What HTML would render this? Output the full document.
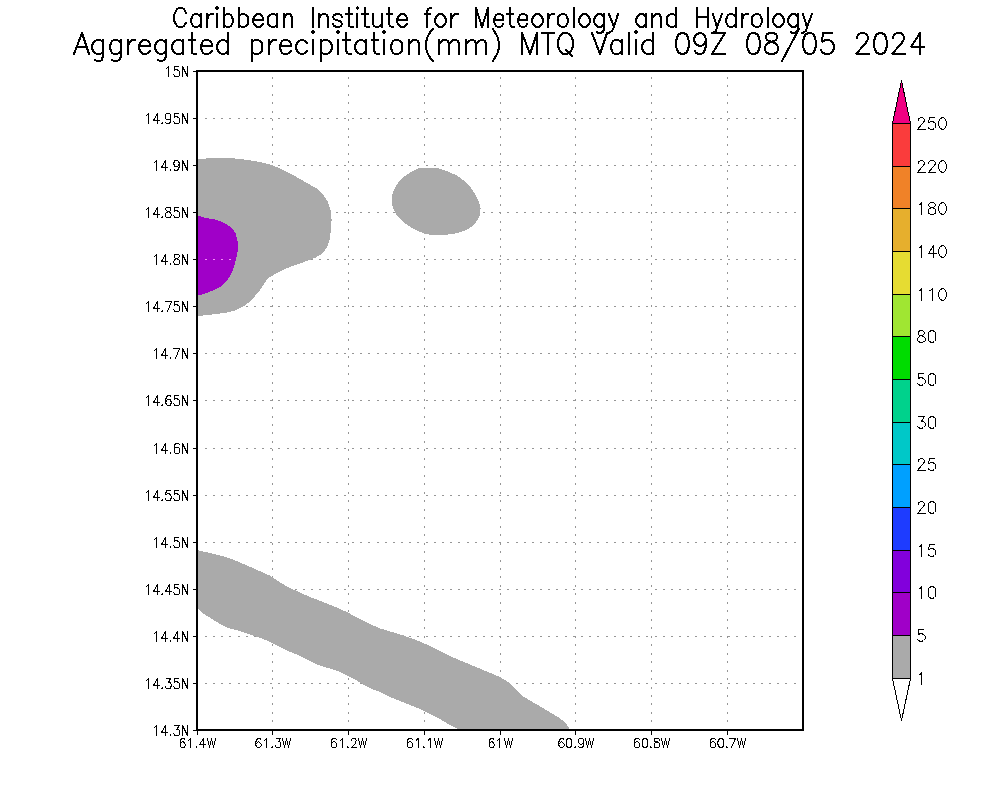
<!DOCTYPE html>
<html><head><meta charset="utf-8"><title>Aggregated precipitation(mm) MTQ</title>
<style>html,body{margin:0;padding:0;background:#fff;font-family:"Liberation Sans",sans-serif;}svg{display:block}</style></head><body>
<svg width="1000" height="800" viewBox="0 0 1000 800">
<rect x="0" y="0" width="1000" height="800" fill="#ffffff"/>
<g shape-rendering="crispEdges" stroke="#969696" stroke-width="1" fill="none">
<line x1="201" y1="118.5" x2="800" y2="118.5" stroke-dasharray="2 6.178" stroke-dashoffset="4.37"/>
<line x1="201" y1="165.5" x2="800" y2="165.5" stroke-dasharray="2 6.178" stroke-dashoffset="4.37"/>
<line x1="201" y1="212.5" x2="800" y2="212.5" stroke-dasharray="2 6.178" stroke-dashoffset="4.37"/>
<line x1="201" y1="259.5" x2="800" y2="259.5" stroke-dasharray="2 6.178" stroke-dashoffset="4.37"/>
<line x1="201" y1="306.5" x2="800" y2="306.5" stroke-dasharray="2 6.178" stroke-dashoffset="4.37"/>
<line x1="201" y1="353.5" x2="800" y2="353.5" stroke-dasharray="2 6.178" stroke-dashoffset="4.37"/>
<line x1="201" y1="400.5" x2="800" y2="400.5" stroke-dasharray="2 6.178" stroke-dashoffset="4.37"/>
<line x1="201" y1="448.5" x2="800" y2="448.5" stroke-dasharray="2 6.178" stroke-dashoffset="4.37"/>
<line x1="201" y1="495.5" x2="800" y2="495.5" stroke-dasharray="2 6.178" stroke-dashoffset="4.37"/>
<line x1="201" y1="542.5" x2="800" y2="542.5" stroke-dasharray="2 6.178" stroke-dashoffset="4.37"/>
<line x1="201" y1="589.5" x2="800" y2="589.5" stroke-dasharray="2 6.178" stroke-dashoffset="4.37"/>
<line x1="201" y1="636.5" x2="800" y2="636.5" stroke-dasharray="2 6.178" stroke-dashoffset="4.37"/>
<line x1="201" y1="683.5" x2="800" y2="683.5" stroke-dasharray="2 6.178" stroke-dashoffset="4.37"/>
<line x1="272.5" y1="726" x2="272.5" y2="74" stroke-dasharray="2 6.47" stroke-dashoffset="4.9"/>
<line x1="348.5" y1="726" x2="348.5" y2="74" stroke-dasharray="2 6.47" stroke-dashoffset="4.9"/>
<line x1="424.5" y1="726" x2="424.5" y2="74" stroke-dasharray="2 6.47" stroke-dashoffset="4.9"/>
<line x1="500.5" y1="726" x2="500.5" y2="74" stroke-dasharray="2 6.47" stroke-dashoffset="4.9"/>
<line x1="575.5" y1="726" x2="575.5" y2="74" stroke-dasharray="2 6.47" stroke-dashoffset="4.9"/>
<line x1="651.5" y1="726" x2="651.5" y2="74" stroke-dasharray="2 6.47" stroke-dashoffset="4.9"/>
<line x1="727.5" y1="726" x2="727.5" y2="74" stroke-dasharray="2 6.47" stroke-dashoffset="4.9"/>
</g>
<defs><clipPath id="pc"><polygon points="197,215.6 198,215.6 206,218 215.6,219.6 225.2,223.3 231.6,227.6 235.6,233.2 237.5,241.2 238,249.2 236.4,257.2 234,266.8 230.8,274.8 226.8,281.2 220.4,286.8 212.4,290.8 204.4,293.7 198,295.6 197,295.6"/></clipPath></defs>
<g shape-rendering="crispEdges" stroke="none">
<polygon fill="#aaaaaa" points="197,159.3 198,159.3 210.8,158 230,158 242.8,159.3 257.2,161.5 270,164.4 281.2,168.9 294,175.6 305.2,182 316.4,188.4 322.8,194 327.6,201.2 330.8,210.8 331.6,220.4 330.8,230 330,238 327.6,246 322.8,253.2 316.4,257.2 308.4,260.4 300.4,263.3 292.4,266 284.4,269.2 276.4,273.2 268.4,278 263.6,284.4 258.8,291.6 254,297.2 249.2,302 242.8,306.8 234.8,310.5 225.2,312.9 214,314.3 206,315.1 198,316.4 197,316.4"/>
<polygon fill="#aaaaaa" points="392,200.6 392.6,193.4 395,187.4 399.2,181.4 404,176.6 411.2,171.8 418.4,168.2 428,168 437.6,168.2 447.2,171.2 456.8,175.4 464,180.8 470,186.8 474.8,193.4 478.4,200.6 480.6,207.8 480.2,213.8 477.8,219.8 473.6,225.2 466.4,230 458,233 447.2,234.6 436.4,234.8 426.8,234.4 419.6,231.8 412.4,228.2 405.2,223.4 399.2,218 395,212.6 392.6,206.6"/>
<polygon fill="#aaaaaa" points="197,550.4 198,550.4 210,553 222,556 234,560 246,565 258,570.4 270,575.6 278,581 288,587 298,591.6 310,597 322,601.6 334,606.4 346,611.6 358,618 370,624 380,628.4 392,632 404,635.6 416,640 428,645 440,651 452,657 464,662 476,667 488,672 500,677 508,682 516,690 524,697 536,704 548,711 558,717 566,723 569.6,729 570,730 458,730 458,729 450,725 440,719 430,714 420,709 410,705 400,701 390,697 380,692 372,689 364,685 356,680 348,676 338,671 328,668 318,665 308,660 298,655 288,651 278,646 268,641 258,637 248,634 238,630.4 228,628 220,624 212,619 204,614 198,609 197,609"/>
<polygon fill="#a000c8" points="197,215.6 198,215.6 206,218 215.6,219.6 225.2,223.3 231.6,227.6 235.6,233.2 237.5,241.2 238,249.2 236.4,257.2 234,266.8 230.8,274.8 226.8,281.2 220.4,286.8 212.4,290.8 204.4,293.7 198,295.6 197,295.6"/>
</g>
<line clip-path="url(#pc)" shape-rendering="crispEdges" stroke="#f48cf6" stroke-width="1" x1="201" y1="259.5" x2="800" y2="259.5" stroke-dasharray="2 6.178" stroke-dashoffset="4.37"/>
<g shape-rendering="crispEdges" fill="none" stroke="#000">
<rect x="197" y="71" width="606" height="659" stroke-width="2"/>
<path stroke-width="1" d="M193 71.5 H197 M193 118.5 H197 M193 165.5 H197 M193 212.5 H197 M193 259.5 H197 M193 306.5 H197 M193 353.5 H197 M193 400.5 H197 M193 448.5 H197 M193 495.5 H197 M193 542.5 H197 M193 589.5 H197 M193 636.5 H197 M193 683.5 H197 M193 730.5 H197 M197.5 730 V735 M272.5 730 V735 M348.5 730 V735 M424.5 730 V735 M500.5 730 V735 M575.5 730 V735 M651.5 730 V735 M727.5 730 V735"/>
</g>
<g shape-rendering="crispEdges" stroke="#000" stroke-width="1">
<rect x="892.5" y="635.5" width="18" height="43" fill="#aaaaaa"/>
<rect x="892.5" y="592.5" width="18" height="43" fill="#a000c8"/>
<rect x="892.5" y="550.5" width="18" height="42" fill="#8200dc"/>
<rect x="892.5" y="507.5" width="18" height="43" fill="#1e3cff"/>
<rect x="892.5" y="464.5" width="18" height="43" fill="#00a0ff"/>
<rect x="892.5" y="422.5" width="18" height="42" fill="#00c8c8"/>
<rect x="892.5" y="379.5" width="18" height="43" fill="#00d28c"/>
<rect x="892.5" y="336.5" width="18" height="43" fill="#00dc00"/>
<rect x="892.5" y="294.5" width="18" height="42" fill="#a0e632"/>
<rect x="892.5" y="251.5" width="18" height="43" fill="#e6dc32"/>
<rect x="892.5" y="208.5" width="18" height="43" fill="#e6af2d"/>
<rect x="892.5" y="166.5" width="18" height="42" fill="#f08228"/>
<rect x="892.5" y="123.5" width="18" height="43" fill="#fa3c3c"/>
<polygon points="892.5,123.5 910.5,123.5 901.5,80.5" fill="#f00082"/>
<polygon points="892.5,678.5 910.5,678.5 901.5,720.5" fill="#ffffff"/>
</g>
<path shape-rendering="crispEdges" fill="none" stroke="#000" stroke-width="2" stroke-linecap="square" stroke-linejoin="bevel" d="M186 13 L185 11 L184 9 L182 8 L179 8 L177 9 L176 11 L175 13 L174 15 L174 20 L175 23 L176 24 L177 26 L179 27 L182 27 L184 26 L185 24 L186 23 M201 14 L201 27 M201 17 L199 15 L197 14 L195 14 L193 15 L192 17 L191 20 L191 22 L192 24 L193 26 L195 27 L197 27 L199 26 L201 24 M207 14 L207 27 M207 20 L208 17 L209 15 L211 14 L213 14 M216 8 L217 9 L218 8 L217 7 L216 8 M217 14 L217 27 M224 8 L224 27 M224 17 L225 15 L227 14 L229 14 L231 15 L232 17 L233 20 L233 22 L232 24 L231 26 L229 27 L227 27 L225 26 L224 24 M239 8 L239 27 M239 17 L240 15 L242 14 L244 14 L246 15 L248 17 L248 20 L248 22 L248 24 L246 26 L244 27 L242 27 L240 26 L239 24 M253 20 L263 20 L263 18 L262 16 L261 15 L260 14 L257 14 L256 15 L254 17 L253 20 L253 22 L254 24 L256 26 L257 27 L260 27 L261 26 L263 24 M277 14 L277 27 M277 17 L276 15 L274 14 L272 14 L270 15 L268 17 L268 20 L268 22 L268 24 L270 26 L272 27 L274 27 L276 26 L277 24 M284 14 L284 27 M284 18 L286 15 L287 14 L290 14 L291 15 L292 18 L292 27 M313 8 L313 27 M319 14 L319 27 M319 18 L321 15 L323 14 L325 14 L327 15 L328 18 L328 27 M342 17 L341 15 L339 14 L337 14 L334 15 L333 17 L334 19 L336 20 L340 21 L341 22 L342 24 L341 26 L339 27 L337 27 L334 26 L333 24 M349 8 L349 24 L349 26 L351 27 L353 27 M346 14 L352 14 M357 8 L357 9 L358 8 L357 7 L357 8 M357 14 L357 27 M365 8 L365 24 L365 26 L367 27 L369 27 M362 14 L368 14 M373 14 L373 24 L374 26 L376 27 L378 27 L380 26 L382 24 M382 14 L382 27 M389 8 L389 24 L390 26 L392 27 L393 27 M387 14 L392 14 M397 20 L407 20 L407 18 L406 16 L405 15 L404 14 L401 14 L400 15 L398 17 L397 20 L397 22 L398 24 L400 26 L401 27 L404 27 L405 26 L407 24 M431 8 L430 8 L428 9 L427 12 L427 27 M425 14 L430 14 M439 14 L438 15 L436 17 L435 20 L435 22 L436 24 L438 26 L439 27 L442 27 L443 26 L445 24 L446 22 L446 20 L445 17 L443 15 L442 14 L439 14 M451 14 L451 27 M451 20 L452 17 L454 15 L455 14 L458 14 M476 8 L476 27 M476 8 L482 27 M488 8 L482 27 M488 8 L488 27 M494 20 L503 20 L503 18 L503 16 L502 15 L500 14 L498 14 L496 15 L495 17 L494 20 L494 22 L495 24 L496 26 L498 27 L500 27 L502 26 L503 24 M510 8 L510 24 L511 26 L512 27 L514 27 M507 14 L513 14 M518 20 L527 20 L527 18 L527 16 L526 15 L524 14 L522 14 L520 15 L519 17 L518 20 L518 22 L519 24 L520 26 L522 27 L524 27 L526 26 L527 24 M536 14 L535 15 L533 17 L532 20 L532 22 L533 24 L535 26 L536 27 L539 27 L540 26 L542 24 L543 22 L543 20 L542 17 L540 15 L539 14 L536 14 M548 14 L548 27 M548 20 L549 17 L550 15 L552 14 L554 14 M562 14 L560 15 L558 17 L558 20 L558 22 L558 24 L560 26 L562 27 L564 27 L566 26 L567 24 L568 22 L568 20 L567 17 L566 15 L564 14 L562 14 M574 8 L574 27 M583 14 L582 15 L580 17 L579 20 L579 22 L580 24 L582 26 L583 27 L586 27 L587 26 L589 24 L590 22 L590 20 L589 17 L587 15 L586 14 L583 14 M604 14 L604 29 L603 32 L602 32 L601 33 L598 33 L597 32 M604 17 L602 15 L601 14 L598 14 L597 15 L595 17 L594 20 L594 22 L595 24 L597 26 L598 27 L601 27 L602 26 L604 24 M609 14 L614 27 M618 14 L614 27 L612 31 L610 32 L609 33 L608 33 M646 14 L646 27 M646 17 L644 15 L643 14 L640 14 L639 15 L637 17 L636 20 L636 22 L637 24 L639 26 L640 27 L643 27 L644 26 L646 24 M652 14 L652 27 M652 18 L655 15 L656 14 L659 14 L660 15 L661 18 L661 27 M676 8 L676 27 M676 17 L675 15 L673 14 L671 14 L669 15 L667 17 L667 20 L667 22 L667 24 L669 26 L671 27 L673 27 L675 26 L676 24 M697 8 L697 27 M708 8 L708 27 M697 17 L708 17 M713 14 L717 27 M722 14 L717 27 L716 31 L714 32 L713 33 L712 33 M736 8 L736 27 M736 17 L734 15 L732 14 L730 14 L728 15 L727 17 L726 20 L726 22 L727 24 L728 26 L730 27 L732 27 L734 26 L736 24 M742 14 L742 27 M742 20 L743 17 L744 15 L746 14 L748 14 M756 14 L754 15 L752 17 L752 20 L752 22 L752 24 L754 26 L756 27 L758 27 L760 26 L761 24 L762 22 L762 20 L761 17 L760 15 L758 14 L756 14 M768 8 L768 27 M777 14 L776 15 L774 17 L773 20 L773 22 L774 24 L776 26 L777 27 L780 27 L781 26 L783 24 L784 22 L784 20 L783 17 L781 15 L780 14 L777 14 M798 14 L798 29 L797 32 L796 32 L795 33 L792 33 L791 32 M798 17 L796 15 L795 14 L792 14 L791 15 L789 17 L788 20 L788 22 L789 24 L791 26 L792 27 L795 27 L796 26 L798 24 M803 14 L807 27 M812 14 L807 27 L806 31 L804 32 L803 33 L802 33 M82 33 L74 54 M82 33 L89 54 M77 47 L86 47 M103 40 L103 56 L102 59 L102 60 L100 61 L97 61 L95 60 M103 43 L102 41 L100 40 L97 40 L95 41 L93 43 L92 46 L92 48 L93 51 L95 53 L97 54 L100 54 L102 53 L103 51 M121 40 L121 56 L120 59 L119 60 L117 61 L114 61 L112 60 M121 43 L119 41 L117 40 L114 40 L112 41 L111 43 L110 46 L110 48 L111 51 L112 53 L114 54 L117 54 L119 53 L121 51 M128 40 L128 54 M128 46 L129 43 L131 41 L132 40 L135 40 M139 46 L150 46 L150 44 L149 42 L148 41 L146 40 L143 40 L142 41 L140 43 L139 46 L139 48 L140 51 L142 53 L143 54 L146 54 L148 53 L150 51 M166 40 L166 56 L165 59 L164 60 L162 61 L160 61 L158 60 M166 43 L164 41 L162 40 L160 40 L158 41 L156 43 L155 46 L155 48 L156 51 L158 53 L160 54 L162 54 L164 53 L166 51 M183 40 L183 54 M183 43 L182 41 L180 40 L177 40 L175 41 L173 43 L172 46 L172 48 L173 51 L175 53 L177 54 L180 54 L182 53 L183 51 M192 33 L192 50 L192 53 L194 54 L196 54 M189 40 L195 40 M201 46 L212 46 L212 44 L211 42 L210 41 L208 40 L205 40 L203 41 L202 43 L201 46 L201 48 L202 51 L203 53 L205 54 L208 54 L210 53 L212 51 M228 33 L228 54 M228 43 L226 41 L224 40 L222 40 L220 41 L218 43 L217 46 L217 48 L218 51 L220 53 L222 54 L224 54 L226 53 L228 51 M252 40 L252 61 M252 43 L253 41 L255 40 L258 40 L260 41 L262 43 L262 46 L262 48 L262 51 L260 53 L258 54 L255 54 L253 53 L252 51 M269 40 L269 54 M269 46 L270 43 L272 41 L273 40 L276 40 M280 46 L291 46 L291 44 L290 42 L289 41 L287 40 L284 40 L282 41 L281 43 L280 46 L280 48 L281 51 L282 53 L284 54 L287 54 L289 53 L291 51 M307 43 L305 41 L303 40 L301 40 L299 41 L297 43 L296 46 L296 48 L297 51 L299 53 L301 54 L303 54 L305 53 L307 51 M312 32 L313 33 L314 32 L313 31 L312 32 M313 40 L313 54 M321 40 L321 61 M321 43 L322 41 L324 40 L327 40 L329 41 L331 43 L332 46 L332 48 L331 51 L329 53 L327 54 L324 54 L322 53 L321 51 M337 32 L338 33 L339 32 L338 31 L337 32 M338 40 L338 54 M346 33 L346 50 L347 53 L349 54 L351 54 M343 40 L350 40 M366 40 L366 54 M366 43 L364 41 L362 40 L360 40 L358 41 L356 43 L355 46 L355 48 L356 51 L358 53 L360 54 L362 54 L364 53 L366 51 M374 33 L374 50 L375 53 L377 54 L379 54 M372 40 L378 40 M383 32 L384 33 L385 32 L384 31 L383 32 M384 40 L384 54 M395 40 L393 41 L392 43 L391 46 L391 48 L392 51 L393 53 L395 54 L398 54 L400 53 L402 51 L402 48 L402 46 L402 43 L400 41 L398 40 L395 40 M409 40 L409 54 M409 44 L412 41 L413 40 L416 40 L418 41 L419 44 L419 54 M433 29 L431 31 L429 34 L427 38 L426 43 L426 47 L427 52 L429 56 L431 59 L433 61 M439 40 L439 54 M439 44 L442 41 L443 40 L446 40 L448 41 L449 44 L449 54 M449 44 L452 41 L453 40 L456 40 L458 41 L459 44 L459 54 M466 40 L466 54 M466 44 L469 41 L471 40 L473 40 L475 41 L476 44 L476 54 M476 44 L479 41 L481 40 L483 40 L485 41 L486 44 L486 54 M493 29 L494 31 L496 34 L498 38 L499 43 L499 47 L498 52 L496 56 L494 59 L493 61 M522 33 L522 54 M522 33 L530 54 M537 33 L530 54 M537 33 L537 54 M548 33 L548 54 M542 33 L554 33 M563 33 L562 34 L560 36 L559 38 L558 41 L558 46 L559 49 L560 51 L562 53 L563 54 L567 54 L569 53 L571 51 L572 49 L573 46 L573 41 L572 38 L571 36 L569 34 L567 33 L563 33 M566 50 L572 56 M592 33 L600 54 M607 33 L600 54 M622 40 L622 54 M622 43 L620 41 L618 40 L615 40 L613 41 L612 43 L611 46 L611 48 L612 51 L613 53 L615 54 L618 54 L620 53 L622 51 M629 33 L629 54 M635 32 L636 33 L637 32 L636 31 L635 32 M636 40 L636 54 M653 33 L653 54 M653 43 L652 41 L650 40 L647 40 L645 41 L643 43 L642 46 L642 48 L643 51 L645 53 L647 54 L650 54 L652 53 L653 51 M682 33 L679 34 L677 37 L676 42 L676 45 L677 50 L679 53 L682 54 L683 54 L686 53 L688 50 L689 45 L689 42 L688 37 L686 34 L683 33 L682 33 M706 40 L705 43 L703 45 L701 46 L700 46 L697 45 L695 43 L694 40 L694 39 L695 36 L697 34 L700 33 L701 33 L703 34 L705 36 L706 40 L706 45 L705 50 L703 53 L701 54 L699 54 L696 53 L695 51 M725 33 L712 54 M712 33 L725 33 M712 54 L725 54 M752 33 L750 34 L748 37 L747 42 L747 45 L748 50 L750 53 L752 54 L754 54 L757 53 L759 50 L760 45 L760 42 L759 37 L757 34 L754 33 L752 33 M770 33 L767 34 L766 36 L766 38 L767 40 L769 41 L772 42 L775 43 L777 45 L778 47 L778 50 L777 52 L776 53 L773 54 L770 54 L767 53 L766 52 L765 50 L765 47 L766 45 L768 43 L771 42 L774 41 L776 40 L777 38 L777 36 L776 34 L773 33 L770 33 M799 29 L782 61 M809 33 L806 34 L804 37 L803 42 L803 45 L804 50 L806 53 L809 54 L811 54 L813 53 L815 50 L816 45 L816 42 L815 37 L813 34 L811 33 L809 33 M832 33 L823 33 L822 42 L823 41 L826 40 L829 40 L831 41 L833 43 L834 46 L834 48 L833 51 L831 53 L829 54 L826 54 L823 53 L822 52 L821 50 M857 38 L857 37 L858 35 L859 34 L861 33 L864 33 L866 34 L867 35 L868 37 L868 39 L867 41 L865 44 L856 54 L869 54 M880 33 L877 34 L875 37 L874 42 L874 45 L875 50 L877 53 L880 54 L881 54 L884 53 L886 50 L887 45 L887 42 L886 37 L884 34 L881 33 L880 33 M893 38 L893 37 L894 35 L895 34 L897 33 L901 33 L902 34 L903 35 L904 37 L904 39 L903 41 L901 44 L892 54 L905 54 M920 33 L911 47 L924 47 M920 33 L920 54"/>
<path shape-rendering="crispEdges" fill="none" stroke="#000" stroke-width="1" stroke-linecap="square" d="M166.5 68.5 L167.5 67.5 L168.5 66.5 L168.5 76.5 M178.5 66.5 L174.5 66.5 L174.5 70.5 L175.5 69.5 L176.5 69.5 L178.5 70.5 L179.5 71.5 L179.5 72.5 L179.5 73.5 L179.5 75.5 L178.5 76.5 L176.5 76.5 L175.5 76.5 L174.5 76.5 L174.5 75.5 L173.5 74.5 M182.5 66.5 L182.5 76.5 M182.5 66.5 L187.5 76.5 M187.5 66.5 L187.5 76.5 M146.5 115.5 L147.5 114.5 L148.5 113.5 L148.5 123.5 M157.5 113.5 L153.5 120.5 L159.5 120.5 M157.5 113.5 L157.5 123.5 M162.5 122.5 L161.5 123.5 L162.5 123.5 L162.5 122.5 M170.5 116.5 L170.5 118.5 L169.5 119.5 L168.5 119.5 L166.5 119.5 L165.5 118.5 L165.5 116.5 L165.5 114.5 L166.5 113.5 L168.5 113.5 L169.5 113.5 L170.5 114.5 L170.5 116.5 L170.5 119.5 L170.5 121.5 L169.5 123.5 L168.5 123.5 L167.5 123.5 L166.5 123.5 L165.5 122.5 M178.5 113.5 L174.5 113.5 L174.5 117.5 L175.5 116.5 L176.5 116.5 L178.5 117.5 L179.5 118.5 L179.5 119.5 L179.5 120.5 L179.5 122.5 L178.5 123.5 L176.5 123.5 L175.5 123.5 L174.5 123.5 L174.5 122.5 L173.5 121.5 M182.5 113.5 L182.5 123.5 M182.5 113.5 L187.5 123.5 M187.5 113.5 L187.5 123.5 M154.5 162.5 L155.5 161.5 L156.5 160.5 L156.5 170.5 M165.5 160.5 L161.5 167.5 L167.5 167.5 M165.5 160.5 L165.5 170.5 M170.5 169.5 L170.5 170.5 L170.5 169.5 M179.5 163.5 L178.5 165.5 L177.5 166.5 L176.5 166.5 L174.5 166.5 L174.5 165.5 L173.5 163.5 L174.5 161.5 L174.5 160.5 L176.5 160.5 L177.5 160.5 L178.5 161.5 L179.5 163.5 L179.5 166.5 L178.5 168.5 L177.5 170.5 L176.5 170.5 L175.5 170.5 L174.5 170.5 L174.5 169.5 M182.5 160.5 L182.5 170.5 M182.5 160.5 L187.5 170.5 M187.5 160.5 L187.5 170.5 M146.5 209.5 L147.5 208.5 L148.5 207.5 L148.5 217.5 M157.5 207.5 L153.5 214.5 L159.5 214.5 M157.5 207.5 L157.5 217.5 M162.5 216.5 L161.5 217.5 L162.5 217.5 L162.5 216.5 M167.5 207.5 L166.5 207.5 L165.5 208.5 L165.5 209.5 L166.5 210.5 L167.5 211.5 L168.5 211.5 L170.5 212.5 L170.5 213.5 L171.5 214.5 L171.5 215.5 L170.5 216.5 L170.5 217.5 L169.5 217.5 L167.5 217.5 L166.5 217.5 L165.5 216.5 L165.5 215.5 L165.5 214.5 L165.5 213.5 L166.5 212.5 L168.5 211.5 L169.5 211.5 L170.5 210.5 L170.5 209.5 L170.5 208.5 L170.5 207.5 L169.5 207.5 L167.5 207.5 M178.5 207.5 L174.5 207.5 L174.5 211.5 L175.5 210.5 L176.5 210.5 L178.5 211.5 L179.5 212.5 L179.5 213.5 L179.5 214.5 L179.5 216.5 L178.5 217.5 L176.5 217.5 L175.5 217.5 L174.5 217.5 L174.5 216.5 L173.5 215.5 M182.5 207.5 L182.5 217.5 M182.5 207.5 L187.5 217.5 M187.5 207.5 L187.5 217.5 M154.5 256.5 L155.5 255.5 L156.5 254.5 L156.5 264.5 M165.5 254.5 L161.5 261.5 L167.5 261.5 M165.5 254.5 L165.5 264.5 M170.5 263.5 L170.5 264.5 L170.5 263.5 M175.5 254.5 L174.5 254.5 L174.5 255.5 L174.5 256.5 L174.5 257.5 L175.5 258.5 L176.5 258.5 L178.5 259.5 L179.5 260.5 L179.5 261.5 L179.5 262.5 L179.5 263.5 L178.5 264.5 L177.5 264.5 L175.5 264.5 L174.5 264.5 L174.5 263.5 L173.5 262.5 L173.5 261.5 L174.5 260.5 L174.5 259.5 L176.5 258.5 L177.5 258.5 L178.5 257.5 L179.5 256.5 L179.5 255.5 L178.5 254.5 L177.5 254.5 L175.5 254.5 M182.5 254.5 L182.5 264.5 M182.5 254.5 L187.5 264.5 M187.5 254.5 L187.5 264.5 M146.5 303.5 L147.5 302.5 L148.5 301.5 L148.5 311.5 M157.5 301.5 L153.5 308.5 L159.5 308.5 M157.5 301.5 L157.5 311.5 M162.5 310.5 L161.5 311.5 L162.5 311.5 L162.5 310.5 M171.5 301.5 L167.5 311.5 M165.5 301.5 L171.5 301.5 M178.5 301.5 L174.5 301.5 L174.5 305.5 L175.5 304.5 L176.5 304.5 L178.5 305.5 L179.5 306.5 L179.5 307.5 L179.5 308.5 L179.5 310.5 L178.5 311.5 L176.5 311.5 L175.5 311.5 L174.5 311.5 L174.5 310.5 L173.5 309.5 M182.5 301.5 L182.5 311.5 M182.5 301.5 L187.5 311.5 M187.5 301.5 L187.5 311.5 M154.5 350.5 L155.5 349.5 L156.5 348.5 L156.5 358.5 M165.5 348.5 L161.5 355.5 L167.5 355.5 M165.5 348.5 L165.5 358.5 M170.5 357.5 L170.5 358.5 L170.5 357.5 M179.5 348.5 L175.5 358.5 M173.5 348.5 L179.5 348.5 M182.5 348.5 L182.5 358.5 M182.5 348.5 L187.5 358.5 M187.5 348.5 L187.5 358.5 M146.5 397.5 L147.5 396.5 L148.5 395.5 L148.5 405.5 M157.5 395.5 L153.5 402.5 L159.5 402.5 M157.5 395.5 L157.5 405.5 M162.5 404.5 L161.5 405.5 L162.5 405.5 L162.5 404.5 M170.5 396.5 L170.5 395.5 L169.5 395.5 L168.5 395.5 L167.5 395.5 L166.5 397.5 L165.5 399.5 L165.5 402.5 L166.5 404.5 L167.5 405.5 L168.5 405.5 L170.5 405.5 L170.5 404.5 L171.5 402.5 L170.5 400.5 L170.5 399.5 L168.5 399.5 L167.5 399.5 L166.5 400.5 L165.5 402.5 M178.5 395.5 L174.5 395.5 L174.5 399.5 L175.5 398.5 L176.5 398.5 L178.5 399.5 L179.5 400.5 L179.5 401.5 L179.5 402.5 L179.5 404.5 L178.5 405.5 L176.5 405.5 L175.5 405.5 L174.5 405.5 L174.5 404.5 L173.5 403.5 M182.5 395.5 L182.5 405.5 M182.5 395.5 L187.5 405.5 M187.5 395.5 L187.5 405.5 M154.5 445.5 L155.5 444.5 L156.5 443.5 L156.5 453.5 M165.5 443.5 L161.5 450.5 L167.5 450.5 M165.5 443.5 L165.5 453.5 M170.5 452.5 L170.5 453.5 L170.5 452.5 M179.5 444.5 L178.5 443.5 L177.5 443.5 L176.5 443.5 L175.5 443.5 L174.5 445.5 L174.5 447.5 L174.5 450.5 L174.5 452.5 L175.5 453.5 L176.5 453.5 L178.5 453.5 L179.5 452.5 L179.5 450.5 L179.5 448.5 L178.5 447.5 L176.5 447.5 L175.5 447.5 L174.5 448.5 L174.5 450.5 M182.5 443.5 L182.5 453.5 M182.5 443.5 L187.5 453.5 M187.5 443.5 L187.5 453.5 M146.5 492.5 L147.5 491.5 L148.5 490.5 L148.5 500.5 M157.5 490.5 L153.5 497.5 L159.5 497.5 M157.5 490.5 L157.5 500.5 M162.5 499.5 L161.5 500.5 L162.5 500.5 L162.5 499.5 M170.5 490.5 L166.5 490.5 L165.5 494.5 L166.5 494.5 L167.5 493.5 L168.5 493.5 L170.5 494.5 L170.5 495.5 L171.5 496.5 L171.5 497.5 L170.5 499.5 L170.5 500.5 L168.5 500.5 L167.5 500.5 L166.5 500.5 L165.5 499.5 L165.5 498.5 M178.5 490.5 L174.5 490.5 L174.5 494.5 L175.5 493.5 L176.5 493.5 L178.5 494.5 L179.5 495.5 L179.5 496.5 L179.5 497.5 L179.5 499.5 L178.5 500.5 L176.5 500.5 L175.5 500.5 L174.5 500.5 L174.5 499.5 L173.5 498.5 M182.5 490.5 L182.5 500.5 M182.5 490.5 L187.5 500.5 M187.5 490.5 L187.5 500.5 M154.5 539.5 L155.5 538.5 L156.5 537.5 L156.5 547.5 M165.5 537.5 L161.5 544.5 L167.5 544.5 M165.5 537.5 L165.5 547.5 M170.5 546.5 L170.5 547.5 L170.5 546.5 M178.5 537.5 L174.5 537.5 L174.5 541.5 L175.5 540.5 L176.5 540.5 L178.5 541.5 L179.5 542.5 L179.5 543.5 L179.5 544.5 L179.5 546.5 L178.5 547.5 L176.5 547.5 L175.5 547.5 L174.5 547.5 L174.5 546.5 L173.5 545.5 M182.5 537.5 L182.5 547.5 M182.5 537.5 L187.5 547.5 M187.5 537.5 L187.5 547.5 M146.5 586.5 L147.5 585.5 L148.5 584.5 L148.5 594.5 M157.5 584.5 L153.5 591.5 L159.5 591.5 M157.5 584.5 L157.5 594.5 M162.5 593.5 L161.5 594.5 L162.5 594.5 L162.5 593.5 M169.5 584.5 L165.5 591.5 L171.5 591.5 M169.5 584.5 L169.5 594.5 M178.5 584.5 L174.5 584.5 L174.5 588.5 L175.5 587.5 L176.5 587.5 L178.5 588.5 L179.5 589.5 L179.5 590.5 L179.5 591.5 L179.5 593.5 L178.5 594.5 L176.5 594.5 L175.5 594.5 L174.5 594.5 L174.5 593.5 L173.5 592.5 M182.5 584.5 L182.5 594.5 M182.5 584.5 L187.5 594.5 M187.5 584.5 L187.5 594.5 M154.5 633.5 L155.5 632.5 L156.5 631.5 L156.5 641.5 M165.5 631.5 L161.5 638.5 L167.5 638.5 M165.5 631.5 L165.5 641.5 M170.5 640.5 L170.5 641.5 L170.5 640.5 M177.5 631.5 L173.5 638.5 L179.5 638.5 M177.5 631.5 L177.5 641.5 M182.5 631.5 L182.5 641.5 M182.5 631.5 L187.5 641.5 M187.5 631.5 L187.5 641.5 M146.5 680.5 L147.5 679.5 L148.5 678.5 L148.5 688.5 M157.5 678.5 L153.5 685.5 L159.5 685.5 M157.5 678.5 L157.5 688.5 M162.5 687.5 L161.5 688.5 L162.5 688.5 L162.5 687.5 M166.5 678.5 L170.5 678.5 L168.5 682.5 L169.5 682.5 L170.5 682.5 L170.5 683.5 L171.5 684.5 L171.5 685.5 L170.5 687.5 L170.5 688.5 L168.5 688.5 L167.5 688.5 L166.5 688.5 L165.5 687.5 L165.5 686.5 M178.5 678.5 L174.5 678.5 L174.5 682.5 L175.5 681.5 L176.5 681.5 L178.5 682.5 L179.5 683.5 L179.5 684.5 L179.5 685.5 L179.5 687.5 L178.5 688.5 L176.5 688.5 L175.5 688.5 L174.5 688.5 L174.5 687.5 L173.5 686.5 M182.5 678.5 L182.5 688.5 M182.5 678.5 L187.5 688.5 M187.5 678.5 L187.5 688.5 M154.5 727.5 L155.5 726.5 L156.5 725.5 L156.5 735.5 M165.5 725.5 L161.5 732.5 L167.5 732.5 M165.5 725.5 L165.5 735.5 M170.5 734.5 L170.5 735.5 L170.5 734.5 M174.5 725.5 L179.5 725.5 L176.5 729.5 L177.5 729.5 L178.5 729.5 L179.5 730.5 L179.5 731.5 L179.5 732.5 L179.5 734.5 L178.5 735.5 L176.5 735.5 L175.5 735.5 L174.5 735.5 L174.5 734.5 L173.5 733.5 M182.5 725.5 L182.5 735.5 M182.5 725.5 L187.5 735.5 M187.5 725.5 L187.5 735.5 M184.5 739.5 L184.5 738.5 L183.5 738.5 L182.5 738.5 L181.5 738.5 L180.5 740.5 L180.5 742.5 L180.5 744.5 L180.5 746.5 L181.5 747.5 L182.5 747.5 L184.5 747.5 L184.5 746.5 L185.5 745.5 L185.5 744.5 L184.5 743.5 L184.5 742.5 L182.5 741.5 L181.5 742.5 L180.5 743.5 L180.5 744.5 M188.5 740.5 L189.5 739.5 L190.5 738.5 L190.5 747.5 M196.5 746.5 L196.5 747.5 L196.5 746.5 M203.5 738.5 L199.5 744.5 L205.5 744.5 M203.5 738.5 L203.5 747.5 M207.5 738.5 L209.5 747.5 M211.5 738.5 L209.5 747.5 M211.5 738.5 L213.5 747.5 M215.5 738.5 L213.5 747.5 M260.5 739.5 L260.5 738.5 L259.5 738.5 L258.5 738.5 L257.5 738.5 L256.5 740.5 L255.5 742.5 L255.5 744.5 L256.5 746.5 L257.5 747.5 L258.5 747.5 L259.5 747.5 L260.5 746.5 L261.5 745.5 L261.5 744.5 L260.5 743.5 L259.5 742.5 L258.5 741.5 L257.5 742.5 L256.5 743.5 L255.5 744.5 M264.5 740.5 L265.5 739.5 L266.5 738.5 L266.5 747.5 M272.5 746.5 L271.5 747.5 L272.5 747.5 L272.5 746.5 M276.5 738.5 L280.5 738.5 L278.5 741.5 L279.5 741.5 L280.5 742.5 L280.5 744.5 L280.5 745.5 L280.5 746.5 L279.5 747.5 L278.5 747.5 L277.5 747.5 L276.5 747.5 L275.5 746.5 L275.5 745.5 M282.5 738.5 L284.5 747.5 M286.5 738.5 L284.5 747.5 M286.5 738.5 L288.5 747.5 M290.5 738.5 L288.5 747.5 M336.5 739.5 L335.5 738.5 L334.5 738.5 L333.5 738.5 L332.5 738.5 L331.5 740.5 L331.5 742.5 L331.5 744.5 L331.5 746.5 L332.5 747.5 L333.5 747.5 L334.5 747.5 L335.5 747.5 L336.5 746.5 L336.5 745.5 L336.5 744.5 L336.5 743.5 L335.5 742.5 L334.5 741.5 L333.5 741.5 L332.5 742.5 L331.5 743.5 L331.5 744.5 M340.5 740.5 L341.5 739.5 L342.5 738.5 L342.5 747.5 M347.5 746.5 L347.5 747.5 L348.5 747.5 L347.5 746.5 M351.5 740.5 L351.5 739.5 L352.5 738.5 L353.5 738.5 L354.5 738.5 L355.5 738.5 L355.5 739.5 L356.5 740.5 L355.5 741.5 L355.5 743.5 L351.5 747.5 L356.5 747.5 M358.5 738.5 L360.5 747.5 M362.5 738.5 L360.5 747.5 M362.5 738.5 L364.5 747.5 M366.5 738.5 L364.5 747.5 M412.5 739.5 L411.5 738.5 L410.5 738.5 L409.5 738.5 L408.5 738.5 L407.5 740.5 L407.5 742.5 L407.5 744.5 L407.5 746.5 L408.5 747.5 L409.5 747.5 L410.5 747.5 L411.5 747.5 L412.5 746.5 L412.5 745.5 L412.5 744.5 L412.5 743.5 L411.5 742.5 L410.5 741.5 L409.5 741.5 L408.5 742.5 L407.5 743.5 L407.5 744.5 M416.5 740.5 L416.5 739.5 L418.5 738.5 L418.5 747.5 M423.5 746.5 L423.5 747.5 L424.5 747.5 L423.5 746.5 M428.5 740.5 L428.5 739.5 L430.5 738.5 L430.5 747.5 M434.5 738.5 L436.5 747.5 M438.5 738.5 L436.5 747.5 M438.5 738.5 L440.5 747.5 M442.5 738.5 L440.5 747.5 M493.5 739.5 L493.5 738.5 L492.5 738.5 L491.5 738.5 L490.5 738.5 L489.5 740.5 L489.5 742.5 L489.5 744.5 L489.5 746.5 L490.5 747.5 L491.5 747.5 L493.5 747.5 L493.5 746.5 L494.5 745.5 L494.5 744.5 L493.5 743.5 L493.5 742.5 L491.5 741.5 L490.5 742.5 L489.5 743.5 L489.5 744.5 M497.5 740.5 L498.5 739.5 L499.5 738.5 L499.5 747.5 M504.5 738.5 L506.5 747.5 M508.5 738.5 L506.5 747.5 M508.5 738.5 L510.5 747.5 M512.5 738.5 L510.5 747.5 M563.5 739.5 L563.5 738.5 L562.5 738.5 L561.5 738.5 L560.5 738.5 L559.5 740.5 L558.5 742.5 L558.5 744.5 L559.5 746.5 L560.5 747.5 L561.5 747.5 L562.5 747.5 L563.5 746.5 L564.5 745.5 L564.5 744.5 L563.5 743.5 L562.5 742.5 L561.5 741.5 L560.5 742.5 L559.5 743.5 L558.5 744.5 M568.5 738.5 L567.5 738.5 L566.5 740.5 L566.5 742.5 L566.5 743.5 L566.5 745.5 L567.5 747.5 L568.5 747.5 L569.5 747.5 L570.5 747.5 L571.5 745.5 L571.5 743.5 L571.5 742.5 L571.5 740.5 L570.5 738.5 L569.5 738.5 L568.5 738.5 M575.5 746.5 L574.5 747.5 L575.5 747.5 L575.5 746.5 M583.5 741.5 L583.5 742.5 L582.5 743.5 L581.5 744.5 L580.5 744.5 L579.5 743.5 L578.5 742.5 L578.5 741.5 L578.5 740.5 L578.5 739.5 L579.5 738.5 L580.5 738.5 L581.5 738.5 L582.5 738.5 L583.5 739.5 L583.5 741.5 L583.5 743.5 L583.5 745.5 L582.5 747.5 L581.5 747.5 L580.5 747.5 L579.5 747.5 L578.5 746.5 M585.5 738.5 L587.5 747.5 M589.5 738.5 L587.5 747.5 M589.5 738.5 L591.5 747.5 M593.5 738.5 L591.5 747.5 M639.5 739.5 L638.5 738.5 L637.5 738.5 L636.5 738.5 L635.5 738.5 L634.5 740.5 L634.5 742.5 L634.5 744.5 L634.5 746.5 L635.5 747.5 L636.5 747.5 L637.5 747.5 L638.5 747.5 L639.5 746.5 L639.5 745.5 L639.5 744.5 L639.5 743.5 L638.5 742.5 L637.5 741.5 L636.5 741.5 L635.5 742.5 L634.5 743.5 L634.5 744.5 M644.5 738.5 L643.5 738.5 L642.5 740.5 L642.5 742.5 L642.5 743.5 L642.5 745.5 L643.5 747.5 L644.5 747.5 L645.5 747.5 L646.5 747.5 L647.5 745.5 L647.5 743.5 L647.5 742.5 L647.5 740.5 L646.5 738.5 L645.5 738.5 L644.5 738.5 M650.5 746.5 L650.5 747.5 L651.5 747.5 L650.5 746.5 M656.5 738.5 L654.5 738.5 L654.5 739.5 L654.5 740.5 L654.5 741.5 L655.5 741.5 L657.5 742.5 L658.5 742.5 L659.5 743.5 L659.5 744.5 L659.5 745.5 L659.5 746.5 L658.5 747.5 L657.5 747.5 L656.5 747.5 L654.5 747.5 L654.5 746.5 L654.5 745.5 L654.5 744.5 L654.5 743.5 L655.5 742.5 L656.5 742.5 L658.5 741.5 L659.5 740.5 L659.5 739.5 L658.5 738.5 L657.5 738.5 L656.5 738.5 M661.5 738.5 L663.5 747.5 M665.5 738.5 L663.5 747.5 M665.5 738.5 L667.5 747.5 M669.5 738.5 L667.5 747.5 M715.5 739.5 L714.5 738.5 L713.5 738.5 L712.5 738.5 L711.5 738.5 L710.5 740.5 L710.5 742.5 L710.5 744.5 L710.5 746.5 L711.5 747.5 L712.5 747.5 L713.5 747.5 L714.5 747.5 L715.5 746.5 L715.5 745.5 L715.5 744.5 L715.5 743.5 L714.5 742.5 L713.5 741.5 L712.5 741.5 L711.5 742.5 L710.5 743.5 L710.5 744.5 M720.5 738.5 L719.5 738.5 L718.5 740.5 L717.5 742.5 L717.5 743.5 L718.5 745.5 L719.5 747.5 L720.5 747.5 L721.5 747.5 L722.5 747.5 L723.5 745.5 L723.5 743.5 L723.5 742.5 L723.5 740.5 L722.5 738.5 L721.5 738.5 L720.5 738.5 M726.5 746.5 L726.5 747.5 L727.5 747.5 L726.5 746.5 M735.5 738.5 L731.5 747.5 M729.5 738.5 L735.5 738.5 M737.5 738.5 L739.5 747.5 M741.5 738.5 L739.5 747.5 M741.5 738.5 L743.5 747.5 M745.5 738.5 L743.5 747.5 M919.5 674.5 L920.5 674.5 L921.5 672.5 L921.5 684.5 M923.5 629.5 L918.5 629.5 L918.5 634.5 L920.5 633.5 L921.5 633.5 L923.5 634.5 L924.5 635.5 L925.5 636.5 L925.5 638.5 L924.5 639.5 L923.5 640.5 L921.5 641.5 L920.5 641.5 L918.5 640.5 L917.5 639.5 M919.5 588.5 L920.5 588.5 L921.5 586.5 L921.5 598.5 M931.5 586.5 L929.5 587.5 L928.5 588.5 L928.5 591.5 L928.5 593.5 L928.5 596.5 L929.5 597.5 L931.5 598.5 L932.5 598.5 L934.5 597.5 L935.5 596.5 L935.5 593.5 L935.5 591.5 L935.5 588.5 L934.5 587.5 L932.5 586.5 L931.5 586.5 M919.5 546.5 L920.5 546.5 L921.5 544.5 L921.5 556.5 M934.5 544.5 L929.5 544.5 L928.5 549.5 L929.5 549.5 L930.5 548.5 L932.5 548.5 L934.5 549.5 L935.5 550.5 L935.5 551.5 L935.5 553.5 L935.5 554.5 L934.5 555.5 L932.5 556.5 L930.5 556.5 L929.5 555.5 L928.5 555.5 L928.5 554.5 M918.5 504.5 L918.5 503.5 L918.5 502.5 L919.5 502.5 L920.5 501.5 L922.5 501.5 L923.5 502.5 L924.5 503.5 L924.5 504.5 L923.5 506.5 L922.5 507.5 L917.5 513.5 L925.5 513.5 M931.5 501.5 L929.5 502.5 L928.5 503.5 L928.5 506.5 L928.5 508.5 L928.5 511.5 L929.5 512.5 L931.5 513.5 L932.5 513.5 L934.5 512.5 L935.5 511.5 L935.5 508.5 L935.5 506.5 L935.5 503.5 L934.5 502.5 L932.5 501.5 L931.5 501.5 M918.5 461.5 L918.5 460.5 L918.5 459.5 L919.5 459.5 L920.5 458.5 L922.5 458.5 L923.5 459.5 L924.5 460.5 L924.5 461.5 L923.5 463.5 L922.5 464.5 L917.5 470.5 L925.5 470.5 M934.5 458.5 L929.5 458.5 L928.5 463.5 L929.5 463.5 L930.5 462.5 L932.5 462.5 L934.5 463.5 L935.5 464.5 L935.5 465.5 L935.5 467.5 L935.5 468.5 L934.5 469.5 L932.5 470.5 L930.5 470.5 L929.5 469.5 L928.5 469.5 L928.5 468.5 M918.5 416.5 L924.5 416.5 L921.5 421.5 L922.5 421.5 L923.5 421.5 L924.5 422.5 L925.5 423.5 L925.5 425.5 L924.5 426.5 L923.5 427.5 L921.5 428.5 L920.5 428.5 L918.5 427.5 L917.5 426.5 M931.5 416.5 L929.5 417.5 L928.5 418.5 L928.5 421.5 L928.5 423.5 L928.5 426.5 L929.5 427.5 L931.5 428.5 L932.5 428.5 L934.5 427.5 L935.5 426.5 L935.5 423.5 L935.5 421.5 L935.5 418.5 L934.5 417.5 L932.5 416.5 L931.5 416.5 M923.5 373.5 L918.5 373.5 L918.5 378.5 L920.5 377.5 L921.5 377.5 L923.5 378.5 L924.5 379.5 L925.5 380.5 L925.5 382.5 L924.5 383.5 L923.5 384.5 L921.5 385.5 L920.5 385.5 L918.5 384.5 L917.5 383.5 M931.5 373.5 L929.5 374.5 L928.5 375.5 L928.5 378.5 L928.5 380.5 L928.5 383.5 L929.5 384.5 L931.5 385.5 L932.5 385.5 L934.5 384.5 L935.5 383.5 L935.5 380.5 L935.5 378.5 L935.5 375.5 L934.5 374.5 L932.5 373.5 L931.5 373.5 M920.5 330.5 L918.5 331.5 L918.5 332.5 L918.5 333.5 L918.5 334.5 L919.5 335.5 L921.5 335.5 L923.5 336.5 L924.5 337.5 L925.5 338.5 L925.5 340.5 L924.5 341.5 L923.5 341.5 L922.5 342.5 L920.5 342.5 L918.5 341.5 L917.5 340.5 L917.5 338.5 L918.5 337.5 L919.5 336.5 L920.5 335.5 L922.5 335.5 L923.5 334.5 L924.5 333.5 L924.5 332.5 L923.5 331.5 L922.5 330.5 L920.5 330.5 M931.5 330.5 L929.5 331.5 L928.5 332.5 L928.5 335.5 L928.5 337.5 L928.5 340.5 L929.5 341.5 L931.5 342.5 L932.5 342.5 L934.5 341.5 L935.5 340.5 L935.5 337.5 L935.5 335.5 L935.5 332.5 L934.5 331.5 L932.5 330.5 L931.5 330.5 M919.5 290.5 L920.5 290.5 L921.5 288.5 L921.5 300.5 M929.5 290.5 L930.5 290.5 L932.5 288.5 L932.5 300.5 M942.5 288.5 L940.5 289.5 L939.5 290.5 L938.5 293.5 L938.5 295.5 L939.5 298.5 L940.5 299.5 L942.5 300.5 L943.5 300.5 L944.5 299.5 L945.5 298.5 L946.5 295.5 L946.5 293.5 L945.5 290.5 L944.5 289.5 L943.5 288.5 L942.5 288.5 M919.5 247.5 L920.5 247.5 L921.5 245.5 L921.5 257.5 M933.5 245.5 L928.5 253.5 L936.5 253.5 M933.5 245.5 L933.5 257.5 M942.5 245.5 L940.5 246.5 L939.5 247.5 L938.5 250.5 L938.5 252.5 L939.5 255.5 L940.5 256.5 L942.5 257.5 L943.5 257.5 L944.5 256.5 L945.5 255.5 L946.5 252.5 L946.5 250.5 L945.5 247.5 L944.5 246.5 L943.5 245.5 L942.5 245.5 M919.5 204.5 L920.5 204.5 L921.5 202.5 L921.5 214.5 M930.5 202.5 L929.5 203.5 L928.5 204.5 L928.5 205.5 L929.5 206.5 L930.5 207.5 L932.5 207.5 L934.5 208.5 L935.5 209.5 L935.5 210.5 L935.5 212.5 L935.5 213.5 L934.5 213.5 L933.5 214.5 L930.5 214.5 L929.5 213.5 L928.5 213.5 L928.5 212.5 L928.5 210.5 L928.5 209.5 L929.5 208.5 L931.5 207.5 L933.5 207.5 L934.5 206.5 L935.5 205.5 L935.5 204.5 L934.5 203.5 L933.5 202.5 L930.5 202.5 M942.5 202.5 L940.5 203.5 L939.5 204.5 L938.5 207.5 L938.5 209.5 L939.5 212.5 L940.5 213.5 L942.5 214.5 L943.5 214.5 L944.5 213.5 L945.5 212.5 L946.5 209.5 L946.5 207.5 L945.5 204.5 L944.5 203.5 L943.5 202.5 L942.5 202.5 M918.5 163.5 L918.5 162.5 L918.5 161.5 L919.5 161.5 L920.5 160.5 L922.5 160.5 L923.5 161.5 L924.5 162.5 L924.5 163.5 L923.5 165.5 L922.5 166.5 L917.5 172.5 L925.5 172.5 M928.5 163.5 L928.5 162.5 L929.5 161.5 L930.5 160.5 L933.5 160.5 L934.5 161.5 L935.5 162.5 L935.5 163.5 L934.5 165.5 L933.5 166.5 L928.5 172.5 L935.5 172.5 M942.5 160.5 L940.5 161.5 L939.5 162.5 L938.5 165.5 L938.5 167.5 L939.5 170.5 L940.5 171.5 L942.5 172.5 L943.5 172.5 L944.5 171.5 L945.5 170.5 L946.5 167.5 L946.5 165.5 L945.5 162.5 L944.5 161.5 L943.5 160.5 L942.5 160.5 M918.5 120.5 L918.5 119.5 L918.5 118.5 L919.5 118.5 L920.5 117.5 L922.5 117.5 L923.5 118.5 L924.5 119.5 L924.5 120.5 L923.5 122.5 L922.5 123.5 L917.5 129.5 L925.5 129.5 M934.5 117.5 L929.5 117.5 L928.5 122.5 L929.5 122.5 L930.5 121.5 L932.5 121.5 L934.5 122.5 L935.5 123.5 L935.5 124.5 L935.5 126.5 L935.5 127.5 L934.5 128.5 L932.5 129.5 L930.5 129.5 L929.5 128.5 L928.5 128.5 L928.5 127.5 M942.5 117.5 L940.5 118.5 L939.5 119.5 L938.5 122.5 L938.5 124.5 L939.5 127.5 L940.5 128.5 L942.5 129.5 L943.5 129.5 L944.5 128.5 L945.5 127.5 L946.5 124.5 L946.5 122.5 L945.5 119.5 L944.5 118.5 L943.5 117.5 L942.5 117.5"/>
</svg></body></html>
